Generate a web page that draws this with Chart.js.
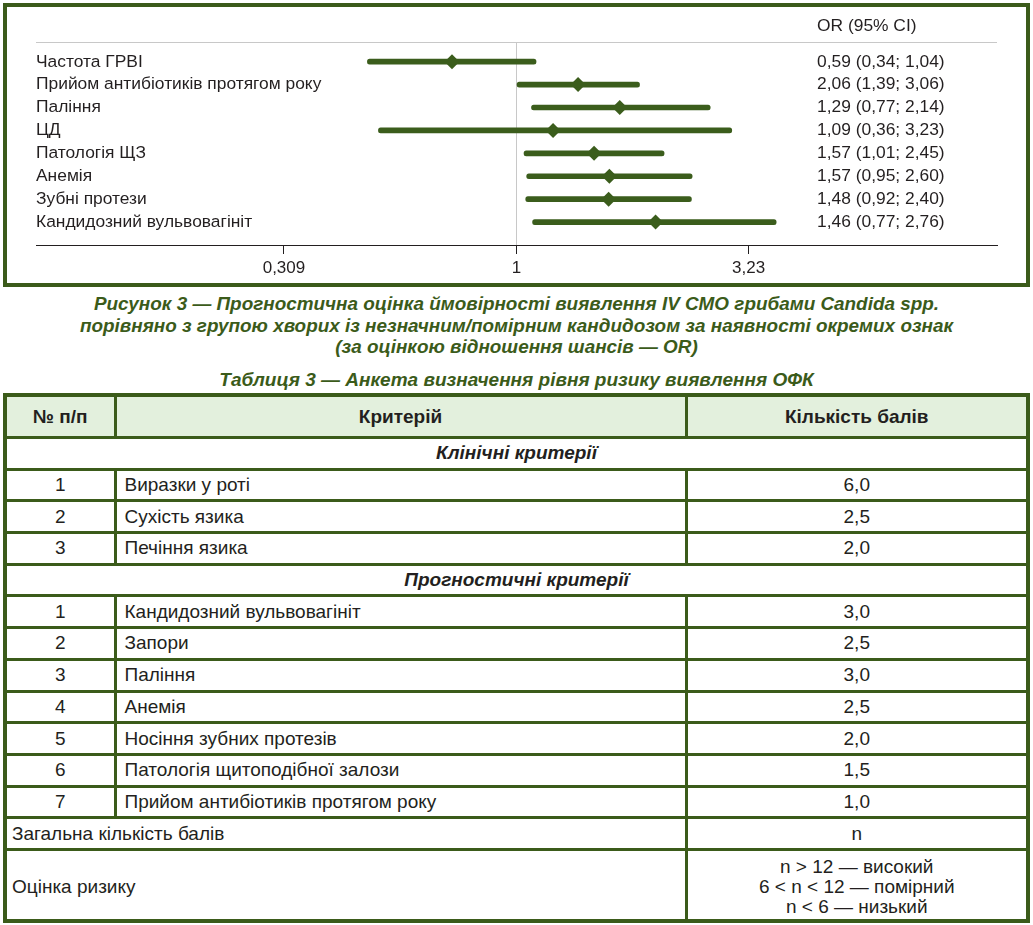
<!DOCTYPE html>
<html lang="uk">
<head>
<meta charset="utf-8">
<script src="https://cdn.jsdelivr.net/npm/chart.js@4.4.1/dist/chart.umd.min.js"></script>
<style>
html,body{margin:0;padding:0;background:#fff;}
body{width:1033px;height:925px;position:relative;overflow:hidden;font-family:"Liberation Sans",Arial,Helvetica,sans-serif;color:#231f20;}
#frame{position:absolute;left:3px;top:3px;width:1019px;height:276px;border:4px solid #3b5b1a;}
#wrap{position:absolute;left:0;top:0;width:1019px;height:276px;}
#cap{position:absolute;left:0;top:293px;width:1033px;text-align:center;font-weight:bold;font-style:italic;font-size:18.9px;line-height:21.5px;color:#3b5b1a;}
#tcap{position:absolute;left:0;top:369px;width:1033px;text-align:center;font-weight:bold;font-style:italic;font-size:19px;line-height:22px;color:#3b5b1a;}
#tbl{position:absolute;left:3px;top:393px;width:1026px;border-collapse:collapse;table-layout:fixed;border:4px solid #3b5b1a;font-size:19px;}
#tbl td,#tbl th{border:3px solid #3b5b1a;padding:0 8px;vertical-align:middle;line-height:20px;}
#tbl td.w{padding-left:5px;}
#tbl th{background:#e3f0dd;font-weight:bold;text-align:center;}
#tbl tr{height:31.7px;}
#tbl tr.hdr{height:42.5px;}
#tbl tr.big{height:71.4px;}
#tbl tr.big td{padding-top:5px;}
.c{text-align:center;}
.sec{text-align:center;font-weight:bold;font-style:italic;}
</style>
</head>
<body>
<div id="frame"><div id="wrap"><canvas id="c"></canvas></div></div>
<div id="cap">Рисунок 3 — Прогностична оцінка ймовірності виявлення IV СМО грибами Candida spp.<br>порівняно з групою хворих із незначним/помірним кандидозом за наявності окремих ознак<br>(за оцінкою відношення шансів — OR)</div>
<div id="tcap">Таблиця 3 — Анкета визначення рівня ризику виявлення ОФК</div>
<table id="tbl">
<colgroup><col style="width:110px"><col style="width:571px"><col style="width:342px"></colgroup>
<tbody id="tb"></tbody>
</table>
<script>
// ---- forest plot data ----
const categories = ['Частота ГРВІ', 'Прийом антибіотиків протягом року', 'Паління', 'ЦД', 'Патологія ЩЗ', 'Анемія', 'Зубні протези', 'Кандидозний вульвовагініт'];
const orEstimate = [0.722, 1.365, 1.685, 1.203, 1.480, 1.599, 1.593, 2.019];
const ciLower = [0.471, 1.003, 1.079, 0.498, 1.039, 1.053, 1.048, 1.085];
const ciUpper = [1.104, 1.862, 2.661, 2.967, 2.108, 2.429, 2.420, 3.713];
const orLabels = ['0,59 (0,34; 1,04)', '2,06 (1,39; 3,06)', '1,29 (0,77; 2,14)', '1,09 (0,36; 3,23)', '1,57 (1,01; 2,45)', '1,57 (0,95; 2,60)', '1,48 (0,92; 2,40)', '1,46 (0,77; 2,76)'];
const orHeader = 'OR (95% CI)';
const tickValues = [0.309, 1, 3.23];
const tickLabels = ['0,309', '1', '3,23'];

// ---- table data ----
const tableHeader = ['№ п/п', 'Критерій', 'Кількість балів'];
const clinicalTitle = 'Клінічні критерії';
const clinicalCriteria = ['Виразки у роті', 'Сухість язика', 'Печіння язика'];
const clinicalScores = ['6,0', '2,5', '2,0'];
const prognosticTitle = 'Прогностичні критерії';
const prognosticCriteria = ['Кандидозний вульвовагініт', 'Запори', 'Паління', 'Анемія', 'Носіння зубних протезів', 'Патологія щитоподібної залози', 'Прийом антибіотиків протягом року'];
const prognosticScores = ['3,0', '2,5', '3,0', '2,5', '2,0', '1,5', '1,0'];
const totalLabel = 'Загальна кількість балів';
const totalValue = 'n';
const riskLabel = 'Оцінка ризику';
const riskLevels = ['n > 12 — високий', '6 < n < 12 — помірний', 'n < 6 — низький'];

// ---- build table ----
const tb = document.getElementById('tb');
function row(cls, cells){
  const tr = document.createElement('tr');
  if (cls) tr.className = cls;
  cells.forEach(c => {
    const el = document.createElement(c.th ? 'th' : 'td');
    if (c.span) el.colSpan = c.span;
    if (c.cls) el.className = c.cls;
    if (Array.isArray(c.text)) { c.text.forEach((t,i)=>{ if(i) el.appendChild(document.createElement('br')); el.appendChild(document.createTextNode(t)); }); }
    else el.textContent = c.text;
    tr.appendChild(el);
  });
  tb.appendChild(tr);
}
row('hdr', tableHeader.map(t => ({th:true, text:t})));
row('', [{span:3, cls:'sec', text:clinicalTitle}]);
clinicalCriteria.forEach((t,i)=>row('', [{cls:'c', text:String(i+1)}, {text:t}, {cls:'c', text:clinicalScores[i]}]));
row('', [{span:3, cls:'sec', text:prognosticTitle}]);
prognosticCriteria.forEach((t,i)=>row('', [{cls:'c', text:String(i+1)}, {text:t}, {cls:'c', text:prognosticScores[i]}]));
row('', [{span:2, cls:'w', text:totalLabel}, {cls:'c', text:totalValue}]);
row('big', [{span:2, cls:'w', text:riskLabel}, {cls:'c', text:riskLevels}]);

// ---- chart ----
const GREEN = '#3b5d1c';
const INK = '#231f20';
const FONT = '"Liberation Sans", Arial, Helvetica, sans-serif';
const rowIdx = categories.map((_, i) => i);

const textPlugin = {
  id: 'forestText',
  beforeDatasetsDraw(chart) {
    const {ctx, chartArea: a, scales: {x}} = chart;
    ctx.save();
    ctx.strokeStyle = '#c8c8c8';
    ctx.lineWidth = 1;
    ctx.beginPath();
    ctx.moveTo(a.left, a.top + 0.5); ctx.lineTo(a.right, a.top + 0.5);
    const px = Math.round(x.getPixelForValue(1)) + 0.5;
    ctx.moveTo(px, a.top); ctx.lineTo(px, a.bottom);
    ctx.stroke();
    ctx.restore();
  },
  afterDraw(chart) {
    const {ctx, chartArea: a, scales: {y}} = chart;
    ctx.save();
    ctx.fillStyle = INK;
    ctx.font = '17.4px ' + FONT;
    ctx.textBaseline = 'middle';
    ctx.textAlign = 'left';
    const orX = 810;
    categories.forEach((c, i) => {
      const py = y.getPixelForValue(rowIdx[i]);
      ctx.fillText(c, a.left, py);
      ctx.fillText(orLabels[i], orX, py);
    });
    ctx.fillText(orHeader, orX, 19);
    ctx.restore();
  }
};

new Chart(document.getElementById('c'), {
  data: {
    datasets: [
      {
        type: 'bar',
        indexAxis: 'y',
        data: rowIdx.map(i => ({y: i, x: [ciLower[i], ciUpper[i]]})),
        backgroundColor: GREEN,
        borderWidth: 0,
        barThickness: 5,
        borderRadius: 2.5,
        borderSkipped: false,
        grouped: false,
        xAxisID: 'x', yAxisID: 'y'
      },
      {
        type: 'scatter',
        data: rowIdx.map(i => ({x: orEstimate[i], y: i})),
        pointStyle: 'rectRot',
        pointRadius: 7.5,
        pointHoverRadius: 7.5,
        backgroundColor: GREEN,
        borderWidth: 0,
        xAxisID: 'x', yAxisID: 'y'
      }
    ]
  },
  options: {
    responsive: true,
    maintainAspectRatio: false,
    animation: false,
    events: [],
    layout: {padding: {left: 29, right: 29, top: 35, bottom: 0}},
    plugins: {legend: {display: false}, tooltip: {enabled: false}},
    scales: {
      x: {
        type: 'logarithmic',
        position: 'bottom',
        offset: false,
        min: 0.0883,
        max: 11.33,
        afterBuildTicks: s => { s.ticks = tickValues.map(v => ({value: v})); },
        afterFit: s => { s.height = 38; },
        border: {display: true, color: INK, width: 1},
        grid: {display: true, offset: false, drawOnChartArea: false, drawTicks: true, tickLength: 9, color: INK, lineWidth: 1},
        ticks: {
          autoSkip: false, maxRotation: 0, padding: 4, color: INK,
          font: {size: 17, family: FONT},
          callback: (v, i) => tickLabels[i]
        }
      },
      y: {
        type: 'linear',
        display: false,
        reverse: true,
        offset: false,
        grid: {offset: false},
        min: -0.86,
        max: 8.0
      }
    }
  },
  plugins: [textPlugin]
});
</script>
</body>
</html>
